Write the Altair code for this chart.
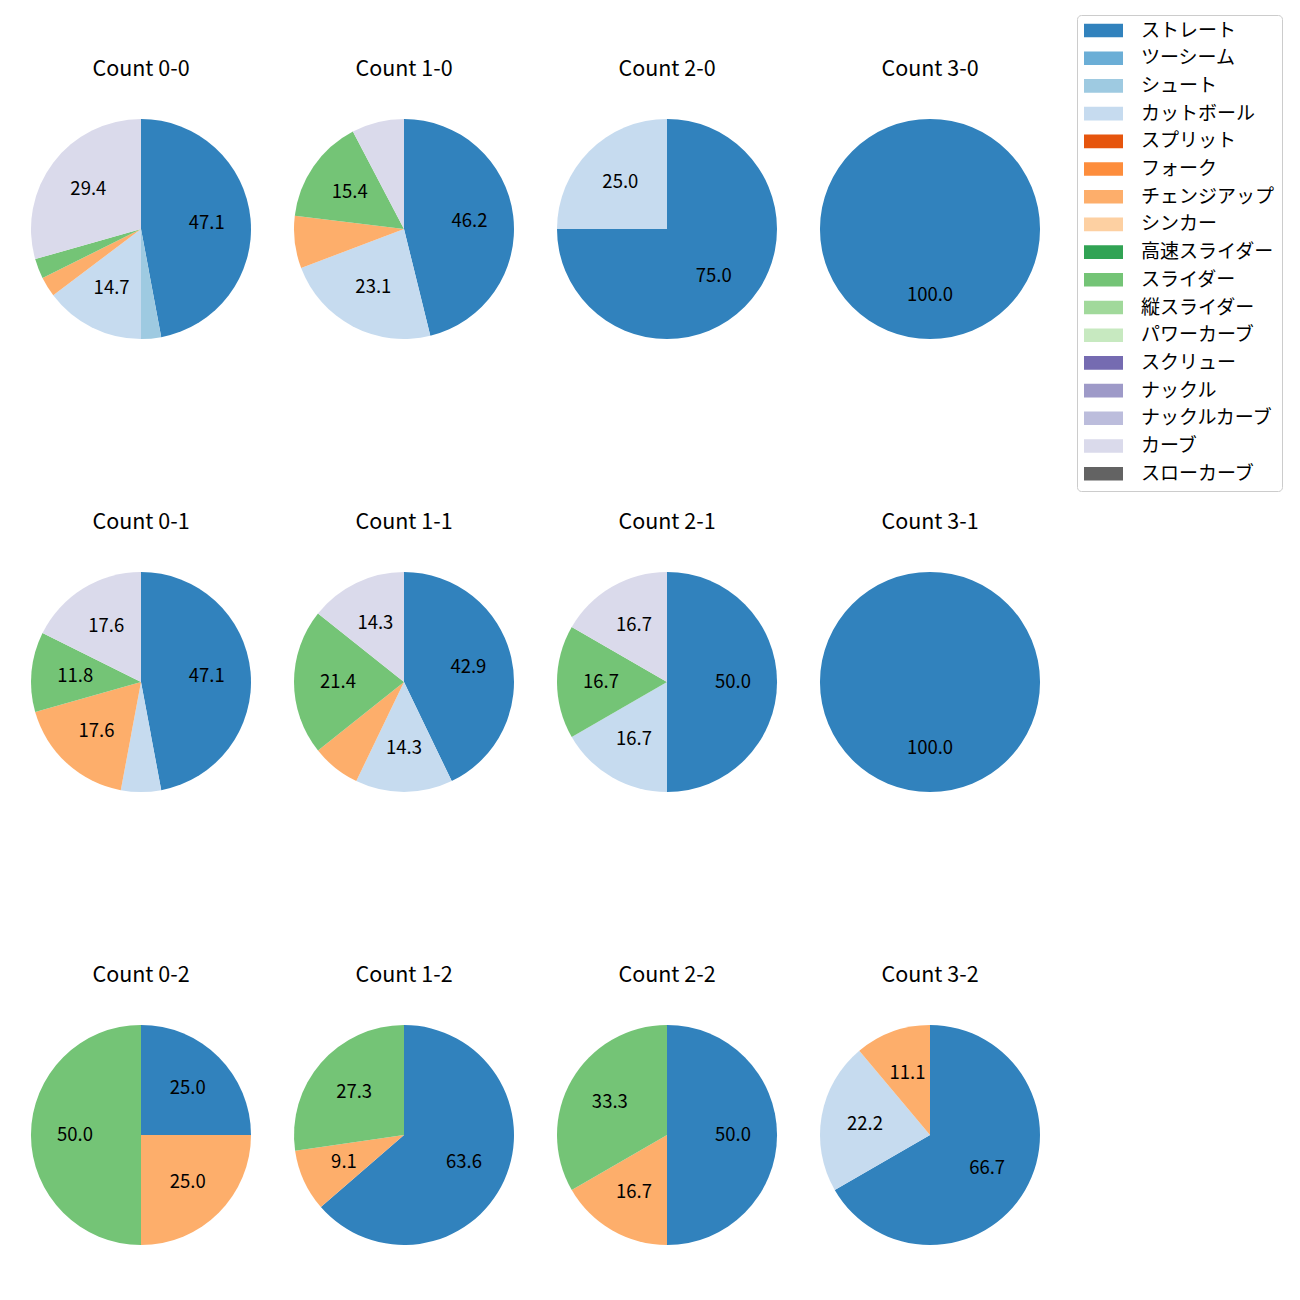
import altair as alt
import pandas as pd

pitch_types = ["ストレート", "ツーシーム", "シュート", "カットボール", "スプリット", "フォーク",
               "チェンジアップ", "シンカー", "高速スライダー", "スライダー", "縦スライダー",
               "パワーカーブ", "スクリュー", "ナックル", "ナックルカーブ", "カーブ", "スローカーブ"]
colors = ["#3182bd", "#6baed6", "#9ecae1", "#c6dbef", "#e6550d", "#fd8d3c", "#fdae6b", "#fdd0a2",
          "#31a354", "#74c476", "#a1d99b", "#c7e9c0", "#756bb1", "#9e9ac8", "#bcbddc", "#dadaeb",
          "#636363"]

panels = ["Count 0-0", "Count 1-0", "Count 2-0", "Count 3-0",
          "Count 0-1", "Count 1-1", "Count 2-1", "Count 3-1",
          "Count 0-2", "Count 1-2", "Count 2-2", "Count 3-2"]

# pitch counts per panel (pitch type -> count)
counts = {
    "Count 0-0": {"ストレート": 16, "シュート": 1, "カットボール": 5, "チェンジアップ": 1, "スライダー": 1, "カーブ": 10},
    "Count 1-0": {"ストレート": 6, "カットボール": 3, "チェンジアップ": 1, "スライダー": 2, "カーブ": 1},
    "Count 2-0": {"ストレート": 3, "カットボール": 1},
    "Count 3-0": {"ストレート": 1},
    "Count 0-1": {"ストレート": 8, "カットボール": 1, "チェンジアップ": 3, "スライダー": 2, "カーブ": 3},
    "Count 1-1": {"ストレート": 6, "カットボール": 2, "チェンジアップ": 1, "スライダー": 3, "カーブ": 2},
    "Count 2-1": {"ストレート": 3, "カットボール": 1, "スライダー": 1, "カーブ": 1},
    "Count 3-1": {"ストレート": 1},
    "Count 0-2": {"ストレート": 1, "チェンジアップ": 1, "スライダー": 2},
    "Count 1-2": {"ストレート": 7, "チェンジアップ": 1, "スライダー": 3},
    "Count 2-2": {"ストレート": 3, "チェンジアップ": 1, "スライダー": 2},
    "Count 3-2": {"ストレート": 6, "カットボール": 2, "チェンジアップ": 1},
}

rows = []
for p in panels:
    for t, n in counts[p].items():
        rows.append({"panel": p, "pitch": t, "order": pitch_types.index(t), "n": n})
df = pd.DataFrame(rows)

FONT = "Noto Sans CJK JP"

base = alt.Chart(df).transform_joinaggregate(
    total="sum(n)", groupby=["panel"]
).transform_calculate(
    pct="100 * datum.n / datum.total"
).transform_calculate(
    label="datum.pct >= 8 ? format(datum.pct, '.1f') : ''"
).encode(
    theta=alt.Theta("n:Q", stack="normalize"),
    order=alt.Order("order:Q", sort="ascending"),
)

arcs = base.mark_arc(outerRadius=110).encode(
    color=alt.Color(
        "pitch:N",
        scale=alt.Scale(domain=pitch_types, range=colors),
        legend=alt.Legend(
            title=None, orient="none", legendX=1046, legendY=-104,
            symbolType="M-1,-0.35L1,-0.35L1,0.35L-1,0.35Z", symbolSize=1521,
            symbolStrokeWidth=0, labelFont=FONT, labelFontSize=19, labelColor="#000000",
            labelOffset=18, rowPadding=7.7, clipHeight=17, padding=7, strokeColor="#cccccc",
            cornerRadius=4, fillColor="#ffffff", labelLimit=300,
        ),
    )
)

labels = base.mark_text(radius=66, font=FONT, fontSize=18.5, color="#000000").encode(
    text="label:N"
)

chart = alt.layer(arcs, labels).properties(width=220, height=220).facet(
    facet=alt.Facet("panel:N", sort=panels, title=None,
                    header=alt.Header(labelFont=FONT, labelFontSize=21.5, labelPadding=39,
                                      labelColor="#000000")),
    columns=4,
    spacing={"row": 172, "column": 43},
).configure_view(stroke=None).properties(
    padding={"left": 23, "top": 6, "right": 5, "bottom": 5}
)

chart.save("out.html", embed_options={"renderer": "svg", "actions": False})
